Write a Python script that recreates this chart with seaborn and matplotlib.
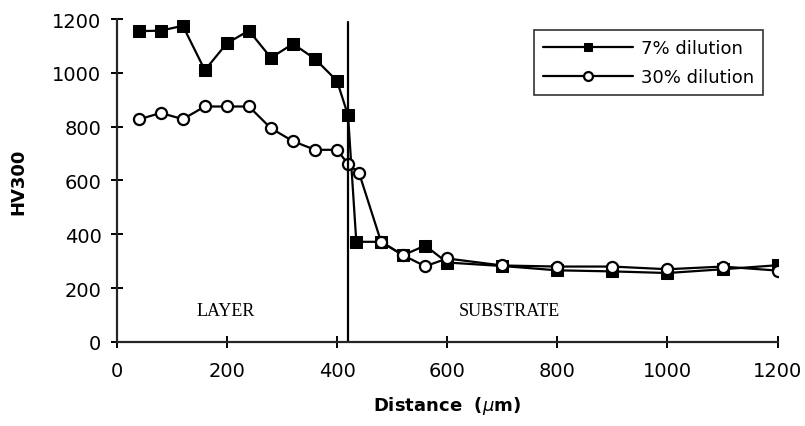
import numpy as np
import pandas as pd
import seaborn as sns
import matplotlib.pyplot as plt

distance_7 = [40, 80, 120, 160, 200, 240, 280, 320, 360, 400, 420, 435, 480, 520, 560, 600,
              700, 800, 900, 1000, 1100, 1200]
hv_7 = [1155, 1157, 1175, 1010, 1110, 1157, 1056, 1108, 1052, 970, 842, 372, 372, 322, 358, 295,
        282, 266, 262, 256, 270, 285]

distance_30 = [40, 80, 120, 160, 200, 240, 280, 320, 360, 400, 420, 440, 480, 520, 560, 600,
               700, 800, 900, 1000, 1100, 1200]
hv_30 = [827, 851, 828, 875, 875, 875, 794, 746, 714, 714, 661, 628, 372, 322, 281, 310,
         284, 280, 280, 270, 280, 265]

boundary = 420

sns.set_style('ticks')
plt.rcParams['font.family'] = ['DejaVu Sans']
plt.rcParams['text.color'] = 'black'
plt.rcParams['axes.labelcolor'] = 'black'
plt.rcParams['xtick.color'] = 'black'
plt.rcParams['ytick.color'] = 'black'

fig = plt.figure(figsize=(8.05, 4.27), dpi=100)
ax = fig.add_axes([0.145, 0.197, 0.821, 0.756])

sns.lineplot(x=distance_7, y=hv_7, ax=ax, color='black', lw=1.6, marker='s', markersize=8,
             markerfacecolor='black', markeredgecolor='black', label='7% dilution')
sns.lineplot(x=distance_30, y=hv_30, ax=ax, color='black', lw=1.6, marker='o', markersize=8,
             markerfacecolor='white', markeredgecolor='black', markeredgewidth=1.6,
             label='30% dilution')

ax.plot([boundary, boundary], [0, 1190], color='black', lw=1.6)

ax.text(198, 118, 'LAYER', family='Liberation Serif', fontsize=13, ha='center', va='center')
ax.text(713, 118, 'SUBSTRATE', family='Liberation Serif', fontsize=13, ha='center', va='center')

ax.set_xlim(0, 1200)
ax.set_ylim(0, 1200)
ax.set_xticks(range(0, 1201, 200))
ax.set_yticks(range(0, 1201, 200))
ax.tick_params(direction='inout', length=8, width=1.4, labelsize=14)
ax.tick_params(axis='x', pad=10)
ax.tick_params(axis='y', pad=7)
for s in ['top', 'right']:
    ax.spines[s].set_visible(False)
for s in ['left', 'bottom']:
    ax.spines[s].set_linewidth(1.6)

ax.set_xlabel(r'Distance  ($\mu$m)', fontsize=13, fontweight='bold', labelpad=10)
ax.set_ylabel('HV300', fontsize=13, fontweight='bold', labelpad=18)

leg = ax.legend(loc='upper right', bbox_to_anchor=(0.991, 0.994), fontsize=13, frameon=True,
                fancybox=False, edgecolor='black', handlelength=5, borderpad=0.5,
                labelspacing=0.6, handletextpad=0.4, markerscale=0.8)
leg.get_frame().set_linewidth(1.2)

fig.savefig('out.png', dpi=100)
